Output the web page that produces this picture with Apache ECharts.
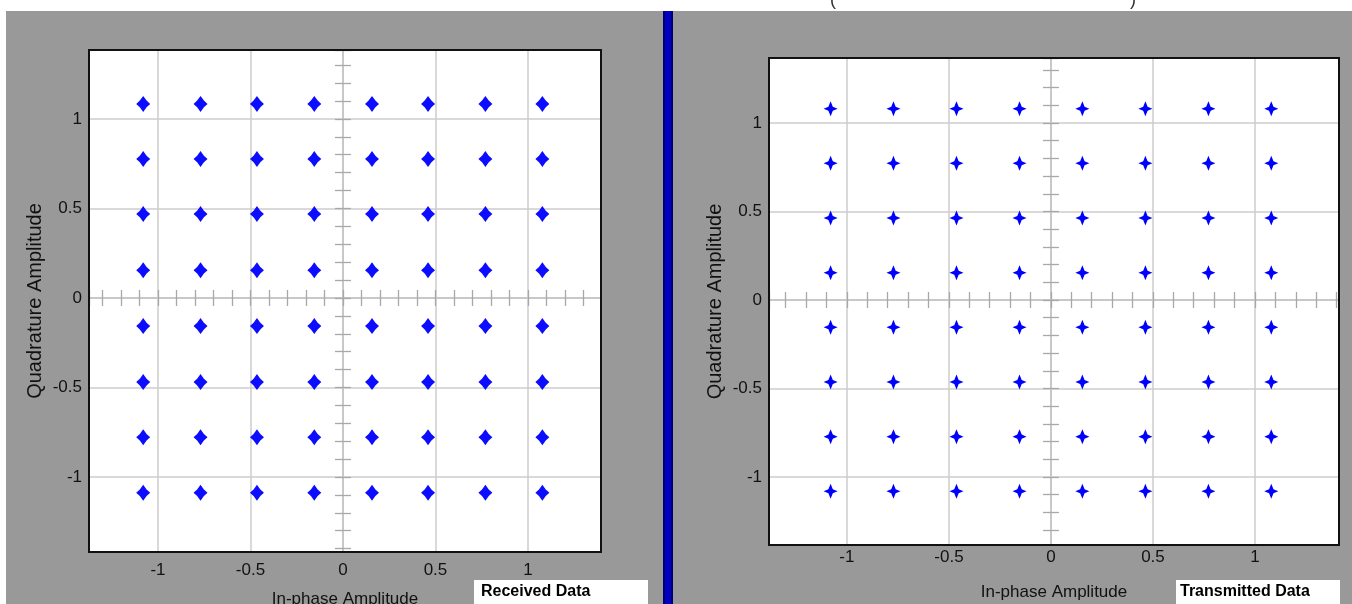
<!DOCTYPE html>
<html>
<head>
<meta charset="utf-8">
<script src="https://cdn.jsdelivr.net/npm/echarts@6/dist/echarts.min.js"></script>
<style>
  html, body { margin: 0; padding: 0; background: #fff; }
  #main { width: 1352px; height: 604px; }
</style>
</head>
<body>
<div id="main"></div>
<script>
  // constellation levels (in-phase / quadrature)
  const rxI = [-1.08, -0.77, -0.465, -0.155, 0.157, 0.46, 0.77, 1.078]
  const rxQ = [1.084, 0.776, 0.469, 0.155, -0.157, -0.47, -0.778, -1.088]
  const txI = [-1.08, -0.772, -0.463, -0.154, 0.154, 0.463, 0.772, 1.08]
  const txQ = [1.08, 0.772, 0.463, 0.154, -0.154, -0.463, -0.772, -1.08]

  const rxRange = { xmin: -1.373, xmax: 1.395, ymin: -1.419, ymax: 1.385 }
  const txRange = { xmin: -1.382, xmax: 1.412, ymin: -1.384, ymax: 1.367 }

  const panelTitles = ['Received Data', 'Transmitted Data']
  const xName = 'In-phase Amplitude'
  const yName = 'Quadrature Amplitude'

  const font = "'Liberation Sans', Arial, sans-serif"

  let pairs = (iv, qv) => {
    let out = []
    qv.forEach(q => iv.forEach(i => out.push([i, q])))
    return out
  }

  let chart = echarts.init(document.getElementById('main'), null, { renderer: 'canvas' })

  let grids = [
    { left: 89, top: 50, width: 512, height: 502 },
    { left: 769, top: 58, width: 570, height: 487 }
  ]
  let ranges = [rxRange, txRange]
  let labelMargin = [10, 4]
  let nameGaps = [39, 39]

  let xAxes = []
  let yAxes = []
  grids.forEach((g, gi) => {
    let r = ranges[gi]
    let mainIdx = gi * 3
    // main axes: labels + grid lines
    xAxes.push({
      type: 'value', gridIndex: gi, position: 'bottom', min: r.xmin, max: r.xmax, splitNumber: 5,
      axisLine: { show: false, onZero: false }, axisTick: { show: false },
      axisLabel: { color: '#111', fontSize: 17, fontFamily: font, margin: labelMargin[gi], showMinLabel: false, showMaxLabel: false },
      splitLine: { show: true, lineStyle: { color: '#cdcdcd', width: 1.5 } },
      name: xName, nameLocation: 'middle', nameGap: nameGaps[gi],
      nameTextStyle: { color: '#111', fontSize: 17, fontFamily: font }
    })
    yAxes.push({
      type: 'value', gridIndex: gi, position: 'left', min: r.ymin, max: r.ymax, splitNumber: 5,
      axisLine: { show: false, onZero: false }, axisTick: { show: false },
      axisLabel: { color: '#111', fontSize: 17, fontFamily: font, margin: 7, showMinLabel: false, showMaxLabel: false },
      splitLine: { show: true, lineStyle: { color: '#cdcdcd', width: 1.5 } },
      name: yName, nameLocation: 'middle', nameGap: 44,
      nameTextStyle: { color: '#111', fontSize: 20, fontFamily: font }
    })
    // centre cross with small ticks on both sides
    ;[true, false].forEach(inside => {
      xAxes.push({
        type: 'value', gridIndex: gi, position: 'bottom', min: r.xmin, max: r.xmax, splitNumber: 28,
        axisLine: { show: true, onZero: true, onZeroAxisIndex: mainIdx, lineStyle: { color: '#c8c8c8', width: 2 } },
        axisTick: { show: true, inside: inside, length: 8, lineStyle: { color: '#a8a8a8', width: 1.3 } },
        axisLabel: { show: false }, splitLine: { show: false }
      })
      yAxes.push({
        type: 'value', gridIndex: gi, position: 'left', min: r.ymin, max: r.ymax, splitNumber: 28,
        axisLine: { show: true, onZero: true, onZeroAxisIndex: mainIdx, lineStyle: { color: '#c8c8c8', width: 2 } },
        axisTick: { show: true, inside: inside, length: 8, lineStyle: { color: '#a8a8a8', width: 1.3 } },
        axisLabel: { show: false }, splitLine: { show: false }
      })
    })
  })

  let frames = grids.map(g => ({
    type: 'rect', z: 100,
    shape: { x: g.left, y: g.top, width: g.width, height: g.height },
    style: { fill: null, stroke: '#111', lineWidth: 2 }
  }))

  let option = {
    animation: false,
    backgroundColor: '#999999',
    grid: grids.map(g => Object.assign({
      show: true, backgroundColor: '#ffffff', borderColor: '#111', borderWidth: 2,
      containLabel: false, outerBoundsMode: 'none'
    }, g)),
    xAxis: xAxes,
    yAxis: yAxes,
    series: [
      {
        type: 'scatter', xAxisIndex: 0, yAxisIndex: 0, z: 5,
        symbol: 'path://M0,-7 L2.9,-2.9 L6,0 L2.9,2.9 L0,7 L-2.9,2.9 L-6,0 L-2.9,-2.9 Z',
        symbolSize: [14, 16],
        itemStyle: { color: '#0c0cff', opacity: 1 },
        data: pairs(rxI, rxQ)
      },
      {
        type: 'scatter', xAxisIndex: 3, yAxisIndex: 3, z: 5,
        symbol: 'path://M0,-7 L1.9,-1.9 L6,0 L1.9,1.9 L0,7 L-1.9,1.9 L-6,0 L-1.9,-1.9 Z',
        symbolSize: [14, 15],
        itemStyle: { color: '#0000ff', opacity: 1 },
        data: pairs(txI, txQ)
      }
    ],
    graphic: frames.concat([
      { type: 'rect', shape: { x: 0, y: 0, width: 1352, height: 11 }, style: { fill: '#ffffff' } },
      { type: 'rect', shape: { x: 0, y: 0, width: 6, height: 604 }, style: { fill: '#ffffff' } },
      { type: 'rect', shape: { x: 663, y: 11, width: 10, height: 593 }, style: { fill: '#00006e' } },
      { type: 'rect', shape: { x: 665, y: 11, width: 6, height: 593 }, style: { fill: '#0000c4' } },
      { type: 'text', x: 830, y: -9, style: { text: '(', fontSize: 18, fontFamily: font, fill: '#333' } },
      { type: 'text', x: 1130, y: -9, style: { text: ')', fontSize: 18, fontFamily: font, fill: '#333' } },
      { type: 'rect', shape: { x: 474, y: 580, width: 174, height: 24 }, style: { fill: '#ffffff' } },
      { type: 'text', x: 481, y: 584, style: { text: panelTitles[0], fontSize: 16, fontWeight: 'bold', fontFamily: font, fill: '#000' } },
      { type: 'rect', shape: { x: 1176, y: 580, width: 164, height: 24 }, style: { fill: '#ffffff' } },
      { type: 'text', x: 1180, y: 584, style: { text: panelTitles[1], fontSize: 16, fontWeight: 'bold', fontFamily: font, fill: '#000' } }
    ])
  }
  chart.setOption(option)
</script>
</body>
</html>
